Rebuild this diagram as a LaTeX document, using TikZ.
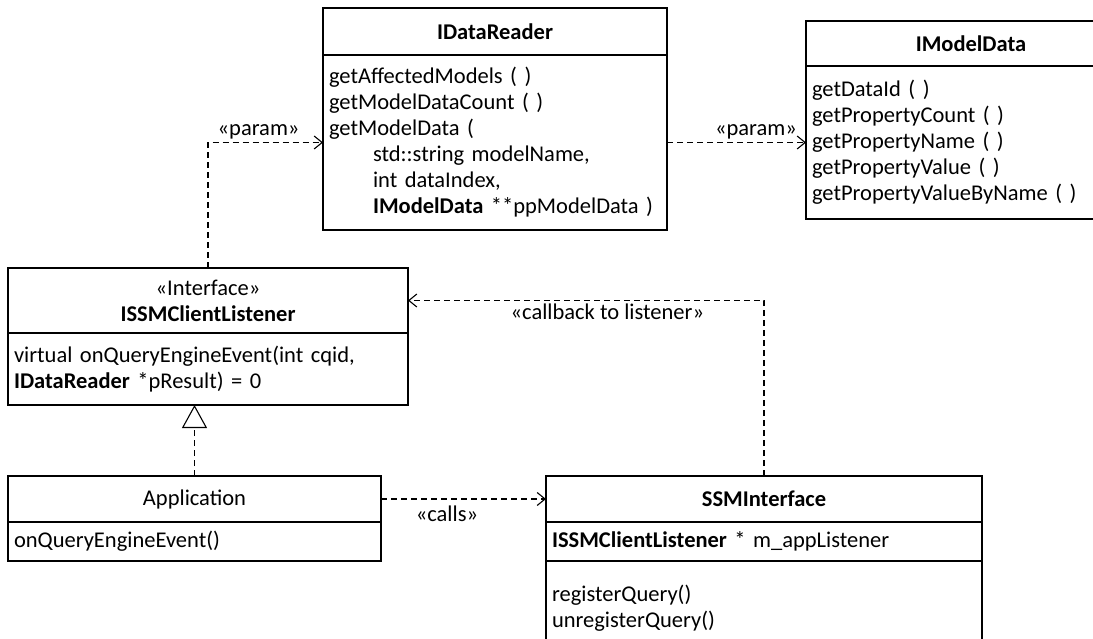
\documentclass[tikz,border=0pt]{standalone}
\usepackage{fontspec}
\setmainfont{Carlito}
\usetikzlibrary{arrows.meta, positioning}
\newcommand{\argind}{\hspace*{44pt}}

\begin{document}
\begin{tikzpicture}[x=1pt, y=1pt,
    every node/.style={font=\fontsize{22.5}{26}\selectfont, inner sep=0pt},
    box/.style={draw, line width=1.1pt, outer sep=0pt, inner xsep=6pt, inner ysep=0pt},
    head/.style={box, align=center},
    body/.style={box, align=left},
    dep/.style={line width=1.1pt, dash pattern=on 6pt off 4pt, -{Straight Barb[length=8pt,width=13pt]}},
    real/.style={line width=1.1pt, dash pattern=on 6pt off 4pt, -{Triangle[open,length=23pt,width=25pt,fill=white]}},
    lbl/.style={inner sep=3pt}]
    \fill[white] (0,0) rectangle (1093,-639);
    \useasboundingbox (0,0) rectangle (1093,-639);
    \clip (0,0) rectangle (1093,-639);

    % top row
    \node[head, minimum width=344, minimum height=47, anchor=north west] (rdrH) at (323,-8) {\textbf{IDataReader}};
    \node[body, minimum width=344, minimum height=175, text width=332pt, below=0pt of rdrH] (rdrB) {
      getAffectedModels ( )\\
      getModelDataCount ( )\\
      getModelData (\\
      \argind std::string modelName,\\
      \argind int dataIndex,\\
      \argind\textbf{IModelData} **ppModelData )};

    \node[head, minimum width=330, minimum height=45, anchor=north west] (mdlH) at (806,-21) {\textbf{IModelData}};
    \node[body, minimum width=330, minimum height=153, text width=318pt, below=0pt of mdlH] (mdlB) {
      getDataId ( )\\
      getPropertyCount ( )\\
      getPropertyName ( )\\
      getPropertyValue ( )\\
      getPropertyValueByName ( )};

    % interface and application
    \node[head, minimum width=400, minimum height=65, anchor=north west] (issmH) at (8,-268) {«Interface»\\ \textbf{ISSMClientListener}};
    \node[body, minimum width=400, minimum height=72, text width=388pt, below=0pt of issmH] (issmB) {
      virtual onQueryEngineEvent(int cqid,\\
      \textbf{IDataReader} *pResult) = 0};

    \node[head, minimum width=373, minimum height=46, anchor=north west] (appH) at (8,-476) {Application};
    \node[body, minimum width=373, minimum height=39, text width=361pt, below=0pt of appH] (appB) {onQueryEngineEvent()};

    \node[head, minimum width=436, minimum height=46, anchor=north west] (ssmH) at (546,-476) {\textbf{SSMInterface}};
    \node[body, minimum width=436, minimum height=39, text width=424pt, below=0pt of ssmH] (ssmA) {\textbf{ISSMClientListener} * m\_appListener};
    \node[body, minimum width=436, minimum height=95, text width=424pt, below=0pt of ssmA] (ssmB) {
      registerQuery()\\
      unregisterQuery()};

    % connectors
    \draw[dep] (issmH.north) |- node[lbl, pos=0.72, above] {«param»} (rdrB.west);
    \draw[dep] (rdrB.east) -- node[lbl, pos=0.64, above] {«param»} (mdlB.west);
    \draw[dep] (ssmH.north) |- node[lbl, pos=0.72, below] {«callback to listener»} (issmH.east);
    \draw[dep] (appH.east) -- node[lbl, pos=0.4, below, yshift=-3pt] {«calls»} (ssmH.west);
    \draw[real] (appH.north) -- (appH.north |- issmB.south);
\end{tikzpicture}
\end{document}
